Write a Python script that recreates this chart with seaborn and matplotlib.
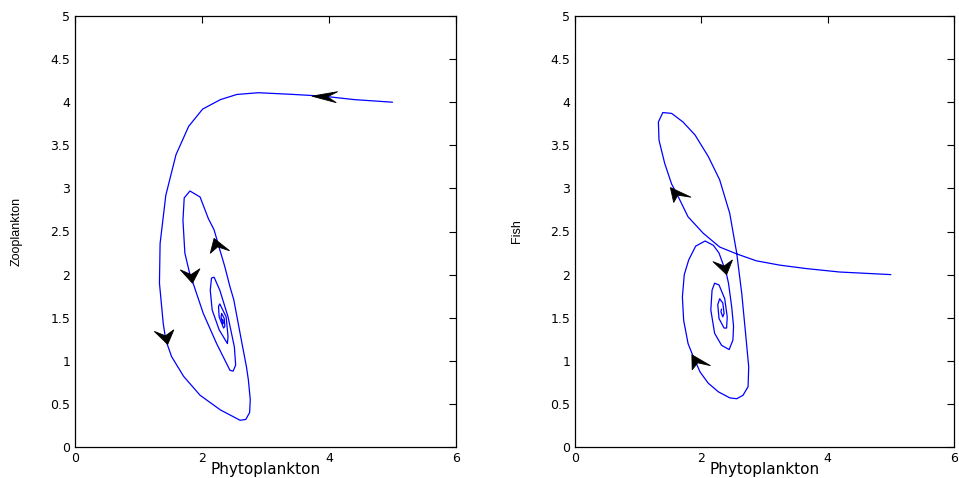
import numpy as np
import pandas as pd
import matplotlib
matplotlib.use("Agg")
import matplotlib.pyplot as plt
from matplotlib.patches import Polygon
from matplotlib.ticker import FormatStrFormatter
import seaborn as sns

# Phase-plane trajectory: phytoplankton vs zooplankton
zoo_phyto = [5.00, 4.40, 3.91, 3.44, 2.89, 2.55, 2.29, 2.01, 1.79, 1.59, 1.43, 1.34,
             1.33, 1.39, 1.43, 1.52, 1.71, 1.97, 2.29, 2.60, 2.69, 2.75, 2.76, 2.73,
             2.70, 2.63, 2.50, 2.44, 2.36, 2.28, 2.19, 2.10, 1.97, 1.81, 1.72, 1.70,
             1.73, 1.81, 1.86, 2.02, 2.23, 2.44, 2.49, 2.53, 2.51, 2.41, 2.28, 2.19,
             2.15, 2.13, 2.16, 2.27, 2.40, 2.41, 2.38, 2.28, 2.26, 2.27, 2.34, 2.36,
             2.35, 2.31, 2.30, 2.33, 2.33, 2.32]
zooplankton = [4.00, 4.03, 4.07, 4.09, 4.11, 4.09, 4.03, 3.92, 3.72, 3.39, 2.92, 2.36,
               1.90, 1.43, 1.24, 1.05, 0.82, 0.60, 0.43, 0.31, 0.32, 0.40, 0.55, 0.78,
               0.93, 1.20, 1.71, 1.86, 2.09, 2.29, 2.52, 2.65, 2.90, 2.97, 2.89, 2.63,
               2.25, 2.00, 1.90, 1.55, 1.20, 0.89, 0.88, 0.95, 1.16, 1.51, 1.82, 1.97,
               1.96, 1.82, 1.59, 1.36, 1.20, 1.28, 1.51, 1.66, 1.63, 1.51, 1.38, 1.40,
               1.49, 1.55, 1.51, 1.43, 1.47, 1.48]

# Phase-plane trajectory: phytoplankton vs fish
fish_phyto = [5.00, 4.19, 3.66, 3.24, 2.87, 2.56, 2.29, 2.03, 1.79, 1.61, 1.53, 1.42,
              1.33, 1.32, 1.39, 1.53, 1.71, 1.90, 2.11, 2.29, 2.45, 2.56, 2.64, 2.70,
              2.75, 2.74, 2.66, 2.56, 2.45, 2.27, 2.11, 1.98, 1.92, 1.86, 1.79, 1.72,
              1.70, 1.73, 1.80, 1.91, 2.06, 2.19, 2.28, 2.34, 2.40, 2.43, 2.48, 2.51,
              2.50, 2.44, 2.32, 2.21, 2.15, 2.17, 2.21, 2.28, 2.37, 2.41, 2.40, 2.36,
              2.28, 2.26, 2.29, 2.34, 2.36, 2.34, 2.31, 2.32]
fish = [2.00, 2.03, 2.07, 2.11, 2.16, 2.24, 2.32, 2.48, 2.67, 2.94, 3.05, 3.29,
        3.56, 3.77, 3.88, 3.87, 3.77, 3.62, 3.37, 3.10, 2.71, 2.25, 1.78, 1.32,
        0.93, 0.70, 0.60, 0.56, 0.57, 0.64, 0.74, 0.87, 0.97, 1.07, 1.20, 1.47,
        1.74, 2.00, 2.17, 2.33, 2.39, 2.34, 2.25, 2.13, 2.00, 1.90, 1.63, 1.40,
        1.24, 1.13, 1.18, 1.32, 1.59, 1.82, 1.90, 1.88, 1.72, 1.51, 1.38, 1.38,
        1.49, 1.65, 1.72, 1.67, 1.55, 1.51, 1.57, 1.60]

# Direction arrows: tip and a point behind it along the trajectory
zoo_arrow_tip = [(3.73, 4.07), (2.19, 2.42), (1.85, 1.90), (1.46, 1.19)]
zoo_arrow_tail = [(4.07, 4.06), (2.26, 2.30), (1.82, 2.03), (1.41, 1.33)]
fish_arrow_tip = [(1.51, 3.01), (2.40, 2.00), (1.85, 1.07)]
fish_arrow_tail = [(1.63, 2.92), (2.35, 2.13), (1.96, 0.96)]

x_ticks = [0, 2, 4, 6]
y_ticks = [0, 0.5, 1, 1.5, 2, 2.5, 3, 3.5, 4, 4.5, 5]

sns.set_style("white")
plt.rcParams["font.family"] = ["DejaVu Sans"]
plt.rcParams["text.color"] = "black"
plt.rcParams["axes.labelcolor"] = "black"

fig = plt.figure(figsize=(9.59, 4.78), dpi=100)
ax1 = fig.add_axes([75 / 959, 31 / 478, 381 / 959, 431 / 478])
ax2 = fig.add_axes([575 / 959, 31 / 478, 379 / 959, 431 / 478])

HEAD_LEN = 14.0   # px
HEAD_WID = 11.0   # px
NOTCH = 0.62
XSTRETCH = 1.8


def draw_arrow(ax, tip, tail):
    p_tip = ax.transData.transform(tip)
    p_tail = ax.transData.transform(tail)
    d = p_tip - p_tail
    d[0] /= XSTRETCH
    u = d / np.linalg.norm(d)
    n = np.array([-u[1], u[0]])
    pts = np.array([
        [0.0, 0.0],
        -HEAD_LEN * u + HEAD_WID / 2 * n,
        -NOTCH * HEAD_LEN * u,
        -HEAD_LEN * u - HEAD_WID / 2 * n,
    ])
    pts[:, 0] *= XSTRETCH
    pts += p_tip
    data_pts = ax.transData.inverted().transform(pts)
    ax.add_patch(Polygon(data_pts, closed=True, facecolor="black",
                         edgecolor="black", linewidth=0.6, zorder=4))


panels = [
    (ax1, zoo_phyto, zooplankton, "Zooplankton", zoo_arrow_tip, zoo_arrow_tail),
    (ax2, fish_phyto, fish, "Fish", fish_arrow_tip, fish_arrow_tail),
]

for ax, px, py, ylab, tips, tails in panels:
    df = pd.DataFrame({"Phytoplankton": px, ylab: py})
    sns.lineplot(data=df, x="Phytoplankton", y=ylab, sort=False, estimator=None,
                 color="#0000ff", linewidth=0.9, ax=ax)
    ax.set_xlim(0, 6)
    ax.set_ylim(0, 5)
    ax.set_xticks(x_ticks)
    ax.set_yticks(y_ticks)
    ax.yaxis.set_major_formatter(FormatStrFormatter("%g"))
    ax.tick_params(direction="in", length=5, width=0.8, top=True, right=True,
                   labelsize=9, pad=3.5, colors="black")
    for sp in ax.spines.values():
        sp.set_visible(True)
        sp.set_color("black")
        sp.set_linewidth(0.9)
    ax.set_xlabel("Phytoplankton", fontsize=11, va="center", color="black")
    ax.xaxis.set_label_coords(0.5, -0.052)
    ax.set_ylabel(ylab, fontsize=9, family=["Liberation Sans", "DejaVu Sans"],
                  va="center", color="black")
    ax.yaxis.set_label_coords(-0.152, 0.5)
    for tip, tail in zip(tips, tails):
        draw_arrow(ax, tip, tail)

fig.savefig("out.png", dpi=100)
